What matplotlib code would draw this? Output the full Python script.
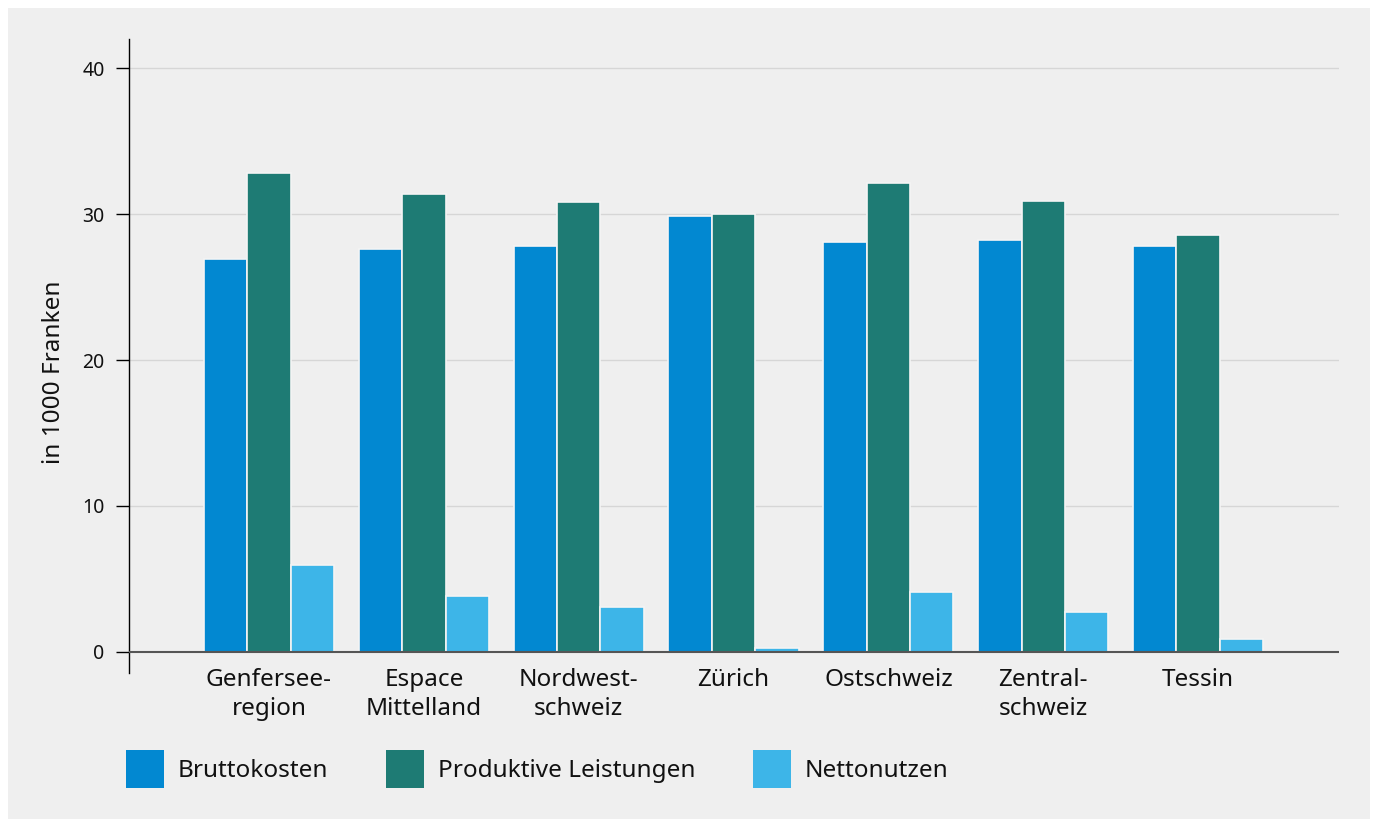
import matplotlib
matplotlib.use("Agg")
import matplotlib.pyplot as plt
import numpy as np
from matplotlib.patches import Rectangle, Patch

categories = ["Genfersee-\nregion", "Espace\nMittelland", "Nordwest-\nschweiz", "Zürich",
              "Ostschweiz", "Zentral-\nschweiz", "Tessin"]
series_names = ["Bruttokosten", "Produktive Leistungen", "Nettonutzen"]
bruttokosten = [26.9, 27.6, 27.8, 29.9, 28.1, 28.2, 27.8]
produktive = [32.8, 31.4, 30.8, 30.0, 32.1, 30.9, 28.6]
nettonutzen = [5.95, 3.85, 3.1, 0.25, 4.1, 2.7, 0.85]
yticks = [0, 10, 20, 30, 40]
ylabel = "in 1000 Franken"
colors = ["#0288d1", "#1e7b74", "#3db5e8"]

plt.rcParams['font.family'] = ['Noto Sans', 'DejaVu Sans']
BG = "#efefef"

fig = plt.figure(figsize=(13.75, 8.19), dpi=100, facecolor="white")
fig.patches.append(Rectangle((8/1375, 0), (1370-8)/1375, 1 - 8/819,
                             transform=fig.transFigure, facecolor=BG,
                             edgecolor="none", zorder=-10))
ax = fig.add_axes([129/1375, 1 - 673/819, (1339-129)/1375, (673-39)/819])
ax.set_facecolor(BG)

x = np.arange(len(categories))
w = 0.28
for i, (vals, c) in enumerate(zip([bruttokosten, produktive, nettonutzen], colors)):
    ax.bar(x + (i - 1) * w, vals, width=w, color=c, edgecolor="#f4f4f4",
           linewidth=1.2, zorder=3, label=series_names[i])

ax.set_xlim(-0.904, 6.91)
ax.set_ylim(-1.45, 42)
ax.set_yticks(yticks)
ax.set_yticklabels([str(t) for t in yticks], fontsize=14, color="#111111")
ax.tick_params(axis='y', length=9.5, width=1, color="black", pad=8)
ax.set_xticks(x)
ax.set_xticklabels(categories, fontsize=17.5, linespacing=1.25, color="#111111")
ax.tick_params(axis='x', length=0, pad=-3.5)
for t in yticks[1:]:
    ax.axhline(t, color="#d6d6d6", lw=1, zorder=1)
ax.axhline(0, color="#555555", lw=1.5, zorder=4)
for s in ["top", "right", "bottom"]:
    ax.spines[s].set_visible(False)
ax.spines["left"].set_color("black")
ax.spines["left"].set_linewidth(1)
ax.set_ylabel(ylabel, fontsize=17.5, color="#111111")
ax.yaxis.set_label_coords(-0.052, 0.475)

handles = [Patch(facecolor=c, edgecolor="none") for c in colors]
fig.legend(handles, series_names, loc="upper left",
           bbox_to_anchor=(104/1375, 1 - 728/819), ncol=3, frameon=False,
           fontsize=17.5, handlelength=1.56, handleheight=2.03,
           handletextpad=0.58, columnspacing=2.36, labelcolor="#111111")

fig.savefig("out.png", dpi=100, facecolor="white")
